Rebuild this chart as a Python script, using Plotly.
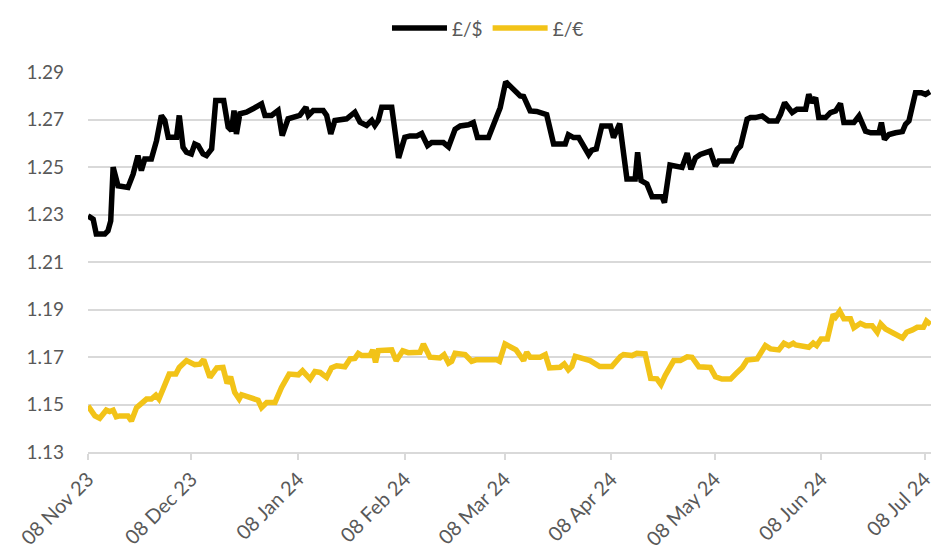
import pandas as pd
import plotly.graph_objects as go

START_DATE = "2023-11-08"

# GBP/USD: day offset from start date, rate
usd_days = [0, 1.5, 2.4, 4.9, 5.8, 6.6, 7.3, 8.7, 11.6, 13.1, 14.5, 15.5, 16.5, 18.4, 19.9, 21.3, 22.3, 23.3,
            25.7, 26.5, 27.6, 28.6, 30.0, 31.0, 32.0, 33.4, 34.4, 35.9, 37.1, 39.4, 40.7, 41.7, 42.4, 43.1,
            44.1, 46.0, 47.9, 50.4, 51.4, 53.3, 55.2, 56.4, 58.1, 61.5, 63.3, 64.0, 65.4, 68.3, 69.3, 70.5,
            71.7, 75.1, 77.5, 79.0, 80.9, 82.4, 83.3, 84.3, 85.3, 88.2, 90.2, 92.0, 93.5, 95.5, 96.9, 98.6,
            99.8, 103.2, 104.7, 106.6, 108.1, 110.5, 111.9, 113.1, 116.3, 118.7, 119.7, 121.3, 124.0, 125.5,
            126.5, 128.4, 130.3, 133.2, 135.2, 138.6, 139.5, 141.0, 142.5, 145.4, 146.3, 147.6, 149.2, 151.7,
            152.6, 154.4, 156.5, 158.9, 159.6, 160.6, 162.3, 163.8, 166.7, 167.4, 169.0, 170.1, 172.5, 174.0,
            175.1, 176.4, 177.8, 180.7, 182.2, 183.2, 187.0, 188.5, 189.5, 191.4, 192.4, 193.8, 195.8, 197.7,
            200.1, 201.1, 202.3, 204.5, 205.9, 208.4, 209.3, 210.3, 211.3, 212.2, 214.2, 215.6, 217.1, 218.5,
            219.5, 222.4, 223.9, 225.8, 227.3, 229.7, 230.4, 231.3, 232.6, 234.5, 236.5, 237.4, 238.4, 240.3,
            242.0, 243.2, 244.5]
usd_vals = [1.2294, 1.2280, 1.2218, 1.2218, 1.2231, 1.2273, 1.2499, 1.2421, 1.2414, 1.2470, 1.2548, 1.2485,
            1.2534, 1.2534, 1.2611, 1.2717, 1.2696, 1.2625, 1.2625, 1.2717, 1.2583, 1.2562, 1.2555, 1.2597,
            1.2590, 1.2555, 1.2548, 1.2576, 1.2780, 1.2780, 1.2668, 1.2654, 1.2738, 1.2639, 1.2724, 1.2731,
            1.2745, 1.2766, 1.2717, 1.2717, 1.2738, 1.2632, 1.2703, 1.2717, 1.2752, 1.2717, 1.2738, 1.2738,
            1.2717, 1.2639, 1.2696, 1.2703, 1.2731, 1.2689, 1.2675, 1.2696, 1.2675, 1.2696, 1.2752, 1.2752,
            1.2538, 1.2625, 1.2631, 1.2631, 1.2641, 1.2590, 1.2603, 1.2603, 1.2585, 1.2659, 1.2673, 1.2678,
            1.2687, 1.2624, 1.2624, 1.2715, 1.2750, 1.2859, 1.2820, 1.2799, 1.2797, 1.2736, 1.2734, 1.2720,
            1.2597, 1.2597, 1.2636, 1.2624, 1.2624, 1.2552, 1.2571, 1.2576, 1.2673, 1.2673, 1.2624, 1.2683,
            1.2450, 1.2450, 1.2562, 1.2443, 1.2429, 1.2375, 1.2375, 1.2350, 1.2508, 1.2505, 1.2498, 1.2558,
            1.2490, 1.2539, 1.2553, 1.2567, 1.2504, 1.2525, 1.2525, 1.2574, 1.2588, 1.2701, 1.2708, 1.2708,
            1.2715, 1.2694, 1.2694, 1.2722, 1.2771, 1.2729, 1.2743, 1.2743, 1.2806, 1.2771, 1.2792, 1.2708,
            1.2708, 1.2729, 1.2736, 1.2767, 1.2687, 1.2687, 1.2715, 1.2651, 1.2644, 1.2644, 1.2687, 1.2616,
            1.2637, 1.2644, 1.2649, 1.2680, 1.2694, 1.2813, 1.2813, 1.2806, 1.2817]

# GBP/EUR: day offset from start date, rate
eur_days = [0, 2.0, 3.4, 5.3, 6.3, 7.3, 8.2, 9.2, 11.6, 12.6, 14.1, 15.5, 17.0, 18.4, 19.7, 20.6, 21.8, 23.6,
            25.5, 26.5, 28.6, 31.0, 32.5, 33.6, 35.4, 37.4, 39.2, 40.4, 41.4, 42.6, 43.9, 44.6, 49.4, 50.4,
            51.9, 54.3, 56.2, 58.4, 61.1, 62.3, 64.5, 65.9, 67.4, 69.3, 70.7, 72.2, 74.6, 76.1, 77.5, 78.5,
            79.5, 81.9, 82.7, 83.5, 84.3, 85.8, 88.2, 89.5, 91.4, 93.0, 96.4, 97.4, 99.3, 102.2, 103.4, 104.7,
            105.6, 106.6, 109.5, 111.4, 112.7, 118.7, 119.5, 121.1, 124.3, 126.5, 127.4, 128.4, 131.3, 132.8,
            134.0, 137.1, 138.3, 139.5, 140.5, 141.5, 145.8, 148.6, 152.1, 154.6, 155.5, 158.0, 159.4, 161.8,
            163.4, 165.2, 166.4, 167.6, 170.1, 172.0, 174.0, 175.4, 177.4, 180.7, 182.2, 184.1, 186.6, 188.0,
            190.0, 191.4, 194.3, 196.7, 198.2, 200.6, 202.1, 203.5, 204.8, 205.5, 207.9, 209.3, 210.6, 211.6,
            212.9, 214.7, 216.4, 217.1, 218.3, 219.5, 221.4, 222.4, 224.3, 225.8, 227.7, 229.2, 230.2, 231.6,
            236.5, 237.7, 239.4, 240.8, 242.6, 243.5, 244.7]
eur_vals = [1.1494, 1.1452, 1.1442, 1.1476, 1.1470, 1.1476, 1.1448, 1.1452, 1.1452, 1.1431, 1.1487, 1.1508,
            1.1523, 1.1523, 1.1539, 1.1523, 1.1565, 1.1628, 1.1628, 1.1656, 1.1685, 1.1668, 1.1670, 1.1689,
            1.1614, 1.1654, 1.1656, 1.1589, 1.1617, 1.1551, 1.1523, 1.1541, 1.1518, 1.1487, 1.1508, 1.1508,
            1.1572, 1.1628, 1.1625, 1.1642, 1.1607, 1.1639, 1.1635, 1.1614, 1.1654, 1.1663, 1.1659, 1.1692,
            1.1694, 1.1715, 1.1706, 1.1706, 1.1730, 1.1677, 1.1727, 1.1730, 1.1730, 1.1684, 1.1726, 1.1718,
            1.1720, 1.1755, 1.1699, 1.1696, 1.1710, 1.1674, 1.1682, 1.1716, 1.1710, 1.1682, 1.1688, 1.1688,
            1.1682, 1.1755, 1.1730, 1.1685, 1.1720, 1.1699, 1.1699, 1.1710, 1.1654, 1.1657, 1.1671, 1.1646,
            1.1660, 1.1703, 1.1685, 1.1660, 1.1660, 1.1702, 1.1710, 1.1706, 1.1716, 1.1713, 1.1610, 1.1608,
            1.1584, 1.1622, 1.1685, 1.1685, 1.1701, 1.1699, 1.1659, 1.1656, 1.1617, 1.1607, 1.1607, 1.1628,
            1.1656, 1.1687, 1.1692, 1.1748, 1.1734, 1.1730, 1.1758, 1.1748, 1.1758, 1.1751, 1.1748, 1.1741,
            1.1759, 1.1748, 1.1776, 1.1776, 1.1879, 1.1868, 1.1893, 1.1861, 1.1861, 1.1823, 1.1842, 1.1832,
            1.1832, 1.1804, 1.1839, 1.1818, 1.1780, 1.1804, 1.1814, 1.1825, 1.1825, 1.1851, 1.1837]

y_ticks = [1.13, 1.15, 1.17, 1.19, 1.21, 1.23, 1.25, 1.27, 1.29]
series_names = ["£/$", "£/€"]
AXIS_END_DAY = 244.8

start = pd.Timestamp(START_DATE)
usd_x = start + pd.to_timedelta(usd_days, unit="D")
eur_x = start + pd.to_timedelta(eur_days, unit="D")

FONT = "Lato, 'Open Sans', sans-serif"
GREY = "#595959"
GRID = "#D9D9D9"

fig = go.Figure()
fig.add_trace(go.Scatter(x=usd_x, y=usd_vals, mode="lines", name=series_names[0],
                         line=dict(color="#000000", width=5.5, shape="linear")))
fig.add_trace(go.Scatter(x=eur_x, y=eur_vals, mode="lines", name=series_names[1],
                         line=dict(color="#F2C318", width=5.5, shape="linear")))

# the page body has an 8px default margin, so the figure is sized to fit the window
fig.update_layout(
    width=943, height=547,
    margin=dict(l=80, r=20, t=64, b=103),
    paper_bgcolor="white", plot_bgcolor="white",
    font=dict(family=FONT, size=19, color=GREY),
    showlegend=True,
    legend=dict(orientation="h", xref="container", yref="container",
                x=0.509, xanchor="center", y=0.963, yanchor="middle",
                font=dict(family=FONT, size=19, color=GREY), itemwidth=55,
                bgcolor="rgba(0,0,0,0)"),
    xaxis=dict(
        type="date", automargin=False,
        range=[start, start + pd.Timedelta(days=AXIS_END_DAY)],
        tick0=START_DATE, dtick="M1", tickformat="%d %b %y",
        tickangle=-45, ticks="outside", ticklen=6, tickcolor=GRID, tickwidth=1.5,
        showline=True, linecolor=GRID, linewidth=1.5,
        showgrid=False, zeroline=False,
        tickfont=dict(family=FONT, size=20, color=GREY),
    ),
    yaxis=dict(
        range=[1.13, 1.29], tickvals=y_ticks, tickformat=".2f", automargin=False,
        showgrid=True, gridcolor=GRID, gridwidth=1.5,
        zeroline=False, showline=False, ticks="", ticklabelstandoff=23,
        tickfont=dict(family=FONT, size=19, color=GREY),
    ),
)

fig.write_html("out.html")
